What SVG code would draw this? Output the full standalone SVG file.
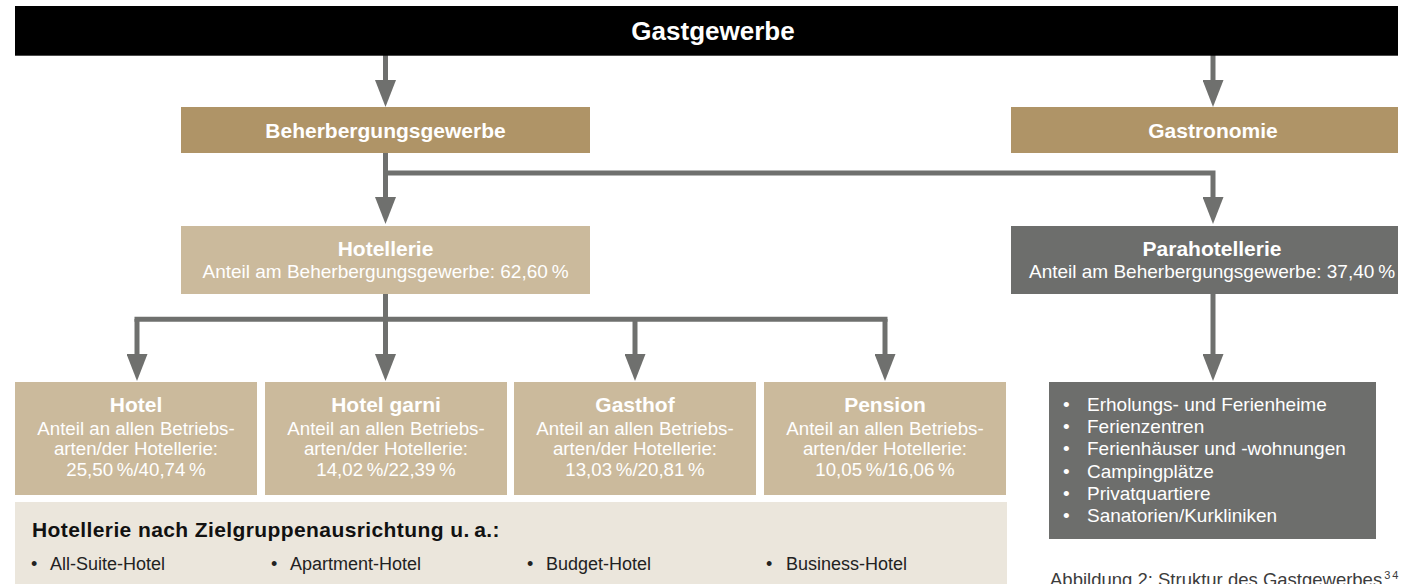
<svg xmlns="http://www.w3.org/2000/svg" width="1404" height="584" viewBox="0 0 1404 584">
<defs>
<style>
text{font-family:"Liberation Sans",Arial,Helvetica,sans-serif;}
.w{fill:#ffffff;}
.c{text-anchor:middle;}
.b{font-weight:bold;}
.gold{fill:#af9467;}
.sand{fill:#cbba9c;}
.grey{fill:#6d6e6c;}
.panel{fill:#ebe6dc;}
.t26{font-size:26px;}
.t21{font-size:21px;}
.t19{font-size:19px;}
.t187{font-size:18.7px;}
.t18{font-size:18px;}
.conn{fill:none;stroke:#6f706e;stroke-width:5;}
.arr{marker-end:url(#ah);}
.bus{stroke-linecap:square;}
</style>
<marker id="ah" viewBox="0 0 27 21" refX="7" refY="10.5" markerWidth="27" markerHeight="21" markerUnits="userSpaceOnUse" orient="auto">
<path d="M0,0 L27,10.5 L0,21 Z" fill="#6f706e"/>
</marker>
</defs>

<g id="connectors">
<path class="conn arr" d="M385.5,55 V87"/>
<path class="conn arr" d="M1213,55 V87"/>
<path class="conn arr" d="M385.5,153 V204"/>
<path class="conn arr" d="M385.5,173 H1213 V204"/>
<path class="conn arr" d="M385.5,294 V361"/>
<path class="conn bus" d="M137,319.3 H885"/>
<path class="conn arr" d="M137,319 V361"/>
<path class="conn arr" d="M635,319 V361"/>
<path class="conn arr" d="M885,319 V361"/>
<path class="conn arr" d="M1213,294 V361"/>
</g>

<g id="gastgewerbe">
<rect x="15" y="6" width="1383" height="49.7" fill="#000000"/>
<text class="w c b t26" x="713" y="40">Gastgewerbe</text>
</g>

<g id="beherbergungsgewerbe">
<rect class="gold" x="181" y="107" width="409" height="46"/>
<text class="w c b t21" x="385.5" y="138">Beherbergungsgewerbe</text>
</g>

<g id="gastronomie">
<rect class="gold" x="1011" y="107" width="387" height="46"/>
<text class="w c b t21" x="1213" y="138">Gastronomie</text>
</g>

<g id="hotellerie">
<rect class="sand" x="181" y="226" width="409" height="68"/>
<text class="w c b t21" x="385.5" y="255.5">Hotellerie</text>
<text class="w c t19" x="385.5" y="278.3">Anteil am Beherbergungsgewerbe: 62,60&#8201;%</text>
</g>

<g id="parahotellerie">
<rect class="grey" x="1011" y="226" width="387" height="68"/>
<text class="w c b t21" x="1212" y="255.5">Parahotellerie</text>
<text class="w c t19" x="1212" y="278.3">Anteil am Beherbergungsgewerbe: 37,40&#8201;%</text>
</g>

<g id="hotel">
<rect class="sand" x="15" y="382" width="242" height="113"/>
<text class="w c b t21" x="136" y="411.7">Hotel</text>
<text class="w c t187" x="136" y="435">Anteil an allen Betriebs-</text>
<text class="w c t187" x="136" y="455.3">arten/der Hotellerie:</text>
<text class="w c t187" x="136" y="475.7">25,50&#8201;%/40,74&#8201;%</text>
</g>

<g id="hotel-garni">
<rect class="sand" x="265" y="382" width="242" height="113"/>
<text class="w c b t21" x="386" y="411.7">Hotel garni</text>
<text class="w c t187" x="386" y="435">Anteil an allen Betriebs-</text>
<text class="w c t187" x="386" y="455.3">arten/der Hotellerie:</text>
<text class="w c t187" x="386" y="475.7">14,02&#8201;%/22,39&#8201;%</text>
</g>

<g id="gasthof">
<rect class="sand" x="514" y="382" width="242" height="113"/>
<text class="w c b t21" x="635" y="411.7">Gasthof</text>
<text class="w c t187" x="635" y="435">Anteil an allen Betriebs-</text>
<text class="w c t187" x="635" y="455.3">arten/der Hotellerie:</text>
<text class="w c t187" x="635" y="475.7">13,03&#8201;%/20,81&#8201;%</text>
</g>

<g id="pension">
<rect class="sand" x="764" y="382" width="242" height="113"/>
<text class="w c b t21" x="885" y="411.7">Pension</text>
<text class="w c t187" x="885" y="435">Anteil an allen Betriebs-</text>
<text class="w c t187" x="885" y="455.3">arten/der Hotellerie:</text>
<text class="w c t187" x="885" y="475.7">10,05&#8201;%/16,06&#8201;%</text>
</g>

<g id="zielgruppen">
<rect class="panel" x="15" y="502" width="992" height="90"/>
<text class="b t21" x="32" y="537" fill="#111111" letter-spacing="0.4">Hotellerie nach Zielgruppenausrichtung u.&#8201;a.:</text>
<g class="t18" fill="#222222">
<text x="31" y="570">•</text><text x="50" y="570">All-Suite-Hotel</text>
<text x="271" y="570">•</text><text x="290" y="570">Apartment-Hotel</text>
<text x="527" y="570">•</text><text x="546" y="570">Budget-Hotel</text>
<text x="766" y="570">•</text><text x="786" y="570">Business-Hotel</text>
</g>
</g>

<g id="parahotellerie-arten">
<rect class="grey" x="1049" y="382" width="327" height="157"/>
<g class="w t19">
<text x="1063" y="410.7">•</text><text x="1087" y="410.7">Erholungs- und Ferienheime</text>
<text x="1063" y="433">•</text><text x="1087" y="433">Ferienzentren</text>
<text x="1063" y="455.3">•</text><text x="1087" y="455.3">Ferienhäuser und -wohnungen</text>
<text x="1063" y="477.6">•</text><text x="1087" y="477.6">Campingplätze</text>
<text x="1063" y="499.9">•</text><text x="1087" y="499.9">Privatquartiere</text>
<text x="1063" y="522.2">•</text><text x="1087" y="522.2">Sanatorien/Kurkliniken</text>
</g>
</g>

<g id="caption">
<text x="1050" y="586" font-size="18.5" fill="#3c3c3c">Abbildung 2: Struktur des Gastgewerbes<tspan font-size="11" dy="-7" dx="2" letter-spacing="2">34</tspan></text>
</g>
</svg>
